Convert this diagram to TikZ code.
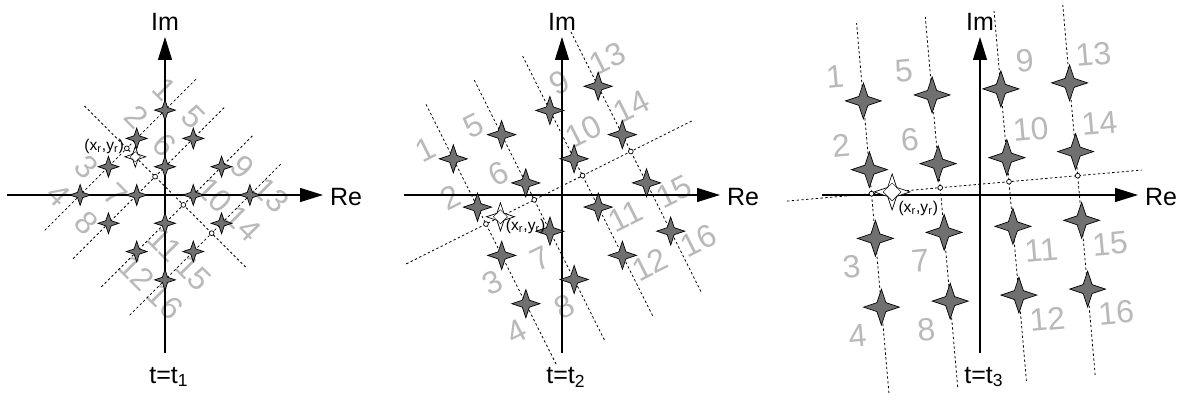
\documentclass[tikz,border=0pt]{standalone}
\usepackage{fontspec}
\setmainfont{Liberation Sans}
\usetikzlibrary{arrows.meta, calc}
\definecolor{PointColor}{RGB}{112,112,112}
\definecolor{LabelColor}{RGB}{185,185,185}
\tikzset{
  qampoint/.pic={\filldraw[line width=0.35pt, fill=PointColor] (0.26,0) -- (0.065,0.065) -- (0,0.26) -- (-0.065,0.065) -- (-0.26,0) -- (-0.065,-0.065) -- (0,-0.26) -- (0.065,-0.065) -- cycle;},
  rxpoint/.pic={\filldraw[line width=0.35pt, fill=white] (0.26,0) -- (0.065,0.065) -- (0,0.26) -- (-0.065,0.065) -- (-0.26,0) -- (-0.065,-0.065) -- (0,-0.26) -- (0.065,-0.065) -- cycle;
    \draw[line width=0.2pt] (0.13,0) -- (0,0.13) -- (-0.13,0) -- (0,-0.13) -- cycle;}
}

\begin{document}
\begin{tikzpicture}[x=0.5pt, y=0.5pt,
    axis/.style={line width=0.6pt, -{Triangle[length=11.5pt, width=7pt]}},
    guide/.style={line width=0.4pt, dash pattern=on 1.2pt off 1.2pt},
    numlabel/.style={text=LabelColor, font=\fontsize{16}{16}\selectfont},
    axlabel/.style={font=\fontsize{12.5}{12.5}\selectfont},
    rxlabel/.style={font=\fontsize{7.8}{7.8}\selectfont, inner sep=0pt},
    proj/.style={circle, draw, line width=0.35pt, fill=white, inner sep=0pt, minimum size=2.4pt}]
  \useasboundingbox (0,0) rectangle (1181,406);
  \foreach \n/\ox/\cx/\ang/\sc/\pa/\pb in {1/165/165/-45/40/-3.0/2.75, 2/562/562/26.6/54/-3.15/2.8, 3/980/975.5/5/69/-2.73/2.43}{
    \pgfmathsetmacro\su{0.5*\sc}
    % numbers first, so that lines and points lie over them
    \begin{scope}[shift={(\cx,211)}, rotate=\ang, x=\su pt, y=\su pt]
      \foreach \col in {0,...,3}
        \foreach \row in {0,...,3}{
          \pgfmathtruncatemacro\k{4*\col+\row+1}
          \pgfmathsetmacro\lx{\col-1.5+0.76*(\col>1)-0.38}
          \pgfmathsetmacro\ly{1.5-\row-0.76*(\row>1)+0.38}
          \node[numlabel, rotate=\ang] (n\n-\k) at (\lx,\ly) {\k};
        }
    \end{scope}
    \coordinate (o\n) at (\ox,211);
    \coordinate (w\n) at (\ox-158,211);
    \coordinate (e\n) at (\ox+158,211);
    \coordinate (s\n) at (\ox,53);
    \coordinate (nn\n) at (\ox,369);
    \draw[axis] (w\n) -- (e\n);
    \draw[axis] (s\n) -- (nn\n);
    \node[axlabel] (re\n) at (\ox+181,209) {Re};
    \node[axlabel] (im\n) at (\ox,384) {Im};
    \node[axlabel] (t\n) at (\ox+4,29) {t=t\textsubscript{\n}};
    \begin{scope}[shift={(\cx,211)}, rotate=\ang, x=\su pt, y=\su pt]
      \foreach \col in {0,...,3}{
        \coordinate (top\n-\col) at (\col-1.5,2.63);
        \coordinate (bot\n-\col) at (\col-1.5,-2.75);
        \draw[guide] (bot\n-\col) -- (top\n-\col);
      }
      \coordinate (pl\n) at (\pa,0.15);
      \coordinate (pr\n) at (\pb,0.15);
      \draw[guide] (pl\n) -- (pr\n);
      \foreach \col in {0,...,3}
        \node[proj] (x\n-\col) at (\col-1.5,0.15) {};
      \foreach \col in {0,...,3}
        \foreach \row in {0,...,3}{
          \pgfmathtruncatemacro\k{4*\col+\row+1}
          \pic (q\n-\k) at (\col-1.5,1.5-\row) {qampoint};
        }
      \coordinate (r\n) at (-1.2,0.15);
      \pic at (r\n) {rxpoint};
    \end{scope}
  }
  \node[rxlabel, anchor=east] (xr1) at ([shift={(-11,10)}]r1) {(x\textsubscript{r},y\textsubscript{r})};
  \node[rxlabel, anchor=west] (xr2) at ([shift={(5,-10)}]r2) {(x\textsubscript{r},y\textsubscript{r})};
  \node[rxlabel, anchor=west] (xr3) at ([shift={(6,-17)}]r3) {(x\textsubscript{r},y\textsubscript{r})};
\end{tikzpicture}
\end{document}
